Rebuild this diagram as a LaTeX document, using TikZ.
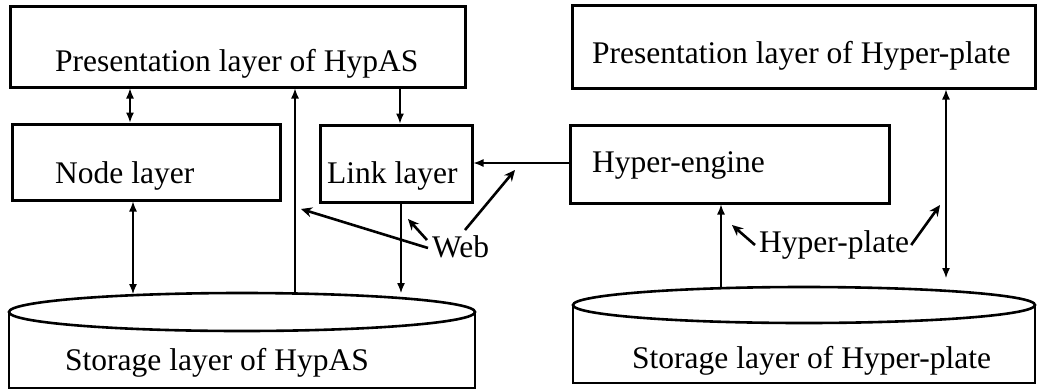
\documentclass[tikz,border=0pt]{standalone}
\usepackage{fontspec}
\setmainfont{Liberation Serif}
\usetikzlibrary{arrows.meta,calc}
\begin{document}
\begin{tikzpicture}[x=1pt,y=-1pt,
  box/.style={draw,line width=3pt,inner sep=0pt},
  txt/.style={anchor=base west,inner sep=0pt,font=\fontsize{31.5}{36}\selectfont},
  conn/.style={line width=1.3pt,-{Latex[length=10pt,width=8pt]}},
  bconn/.style={line width=1.3pt,{Latex[length=10pt,width=8pt]}-{Latex[length=10pt,width=8pt]}},
  web/.style={line width=2.6pt,-{Stealth[length=11pt,width=10pt]}},
  cyl/.style={line width=2.6pt}]
\useasboundingbox (0,0) rectangle (1037,389);
% boxes
\node[box,minimum width=455pt,minimum height=81pt] (presA) at (237.5,46.5) {};
\node[box,minimum width=268pt,minimum height=76pt] (nodeL) at (146,162) {};
\node[box,minimum width=152pt,minimum height=77pt] (linkL) at (396,163.5) {};
\node[box,minimum width=463pt,minimum height=83pt] (presH) at (803.5,46.5) {};
\node[box,minimum width=319pt,minimum height=78pt] (engine) at (729.5,164) {};
% texts
\node[txt] (tpresA) at (55,71) {Presentation layer of HypAS};
\node[txt] (tnodeL) at (55,183) {Node layer};
\node[txt] (tlinkL) at (327,183) {Link layer};
\node[txt] (tpresH) at (592,63) {Presentation layer of Hyper-plate};
\node[txt] (tengine) at (592,172) {Hyper-engine};
% cylinders
\draw[cyl] (9,312) -- (9,388) -- (475,388) -- (475,312);
\draw[cyl] (242,312) ellipse [x radius=233, y radius=19];
\node[txt] (tstorA) at (65,370) {Storage layer of HypAS};
\draw[cyl] (573,305) -- (573,383) -- (1035,383) -- (1035,305);
\draw[cyl] (804,305) ellipse [x radius=231, y radius=18];
\node[txt] (tstorH) at (632,368) {Storage layer of Hyper-plate};
% cylinder top points
\coordinate (sA1) at (133,294);
\coordinate (sA2) at (295,294);
\coordinate (sA3) at (401,293);
\coordinate (sH1) at (721,288);
\coordinate (sH2) at (946,278);
% connectors
\draw[bconn] (presA.south -| 130,0) -- (nodeL.north -| 130,0);
\draw[conn] (sA2) -- (presA.south -| sA2);
\draw[conn] (presA.south -| 400,0) -- (linkL.north -| 400,0);
\draw[bconn] (nodeL.south -| sA1) -- (sA1);
\draw[conn] (linkL.south -| sA3) -- (sA3);
\draw[conn] (engine.west |- 0,163) -- (linkL.east |- 0,163);
\draw[bconn] (presH.south -| sH2) -- (sH2);
\draw[conn] (sH1) -- (engine.south -| sH1);
% labels
\node[txt] (web) at (432,257) {Web};
\node[txt] (hp) at (759,252) {Hyper-plate};
\coordinate (w1) at (301,209);
\coordinate (w2) at (408,219);
\coordinate (w3) at (515,170);
\coordinate (h1) at (732,225);
\coordinate (h2) at (940,205);
\draw[web] ($(web.base west)+(-4,-9)$) -- (w1);
\draw[web] ($(web.base west)+(-5,-17)$) -- (w2);
\draw[web] ($(web.base west)+(33,-27)$) -- (w3);
\draw[web] ($(hp.base west)+(-4,-7)$) -- (h1);
\draw[web] ($(hp.base east)+(2,-7)$) -- (h2);
\end{tikzpicture}
\end{document}
